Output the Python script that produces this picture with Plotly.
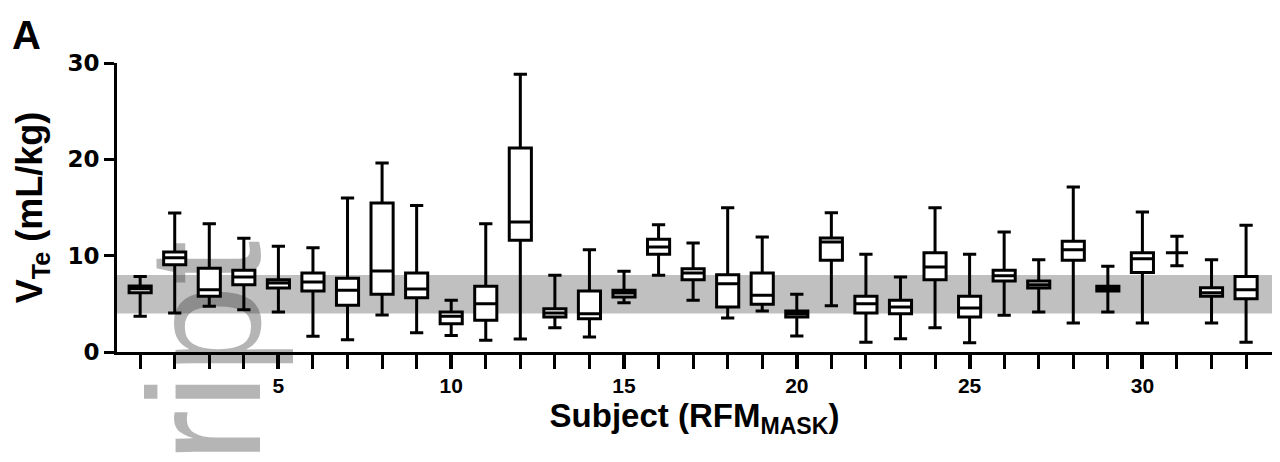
import plotly.graph_objects as go

subjects = list(range(1, 34))
upper_whisker = [7.85, 14.43, 13.32, 11.80, 10.97, 10.83, 15.99, 19.62, 15.22, 5.36, 13.32,
                 28.82, 7.96, 10.62, 8.37, 13.22, 11.31, 14.98, 11.94, 5.99, 14.46,
                 10.14, 7.79, 14.98, 10.14, 12.46, 9.58, 17.13, 8.89, 14.53, 12.01, 9.58, 13.15]
q3_values = [6.85, 10.38, 8.69, 8.48, 7.51, 8.20, 7.65, 15.47, 8.20, 4.15, 6.82,
             21.18, 4.50, 6.33, 6.40, 11.70, 8.65, 8.03, 8.20, 4.26, 11.83,
             5.78, 5.36, 10.31, 5.78, 8.48, 7.37, 11.49, 6.82, 10.31, 10.31, 6.68, 7.85]
medians = [6.57, 9.79, 6.47, 7.79, 7.16, 7.27, 6.40, 8.41, 6.54, 3.70, 5.02,
           13.49, 4.05, 3.98, 6.12, 10.90, 8.20, 7.09, 5.88, 3.98, 11.42,
           5.02, 4.67, 8.82, 4.57, 7.92, 6.99, 10.62, 6.57, 9.69, 10.31, 6.16, 6.47]
q1_values = [6.16, 9.07, 5.78, 6.99, 6.64, 6.33, 4.84, 5.99, 5.64, 2.94, 3.29,
             11.59, 3.63, 3.46, 5.71, 10.14, 7.51, 4.67, 4.95, 3.63, 9.52,
             4.05, 3.98, 7.51, 3.63, 7.37, 6.64, 9.52, 6.33, 8.24, 10.31, 5.78, 5.54]
lower_whisker = [3.70, 4.05, 4.74, 4.39, 4.15, 1.63, 1.28, 3.84, 2.01, 1.70, 1.21,
                 1.35, 2.53, 1.56, 5.12, 7.96, 5.36, 3.53, 4.26, 1.66, 4.81,
                 1.00, 1.38, 2.53, 0.97, 3.81, 4.15, 3.01, 4.15, 3.01, 8.96, 3.01, 1.00]

band_low, band_high = 4, 8
y_ticks = [0, 10, 20, 30]
watermark_text = "ript"

font_family = "Liberation Sans"

fig = go.Figure()

# faint journal watermark (drawn beneath the boxes)
fig.add_trace(go.Bar(
    x=[2.87], y=[2], base=[-0.96], width=[1],
    text=[watermark_text], textposition="inside", insidetextanchor="middle",
    textangle=-90, constraintext="none", cliponaxis=False,
    insidetextfont=dict(family=font_family, size=160, color="rgba(55,55,55,0.37)"),
    marker=dict(color="rgba(0,0,0,0)", line=dict(width=0)),
    hoverinfo="skip", showlegend=False,
))

fig.add_trace(go.Box(
    x=subjects,
    q1=q1_values, median=medians, q3=q3_values,
    lowerfence=lower_whisker, upperfence=upper_whisker,
    boxpoints=False,
    width=0.64,
    whiskerwidth=0.6,
    fillcolor="white",
    line=dict(color="black", width=3),
    showlegend=False,
))

fig.add_shape(type="rect", xref="paper", x0=0, x1=1, yref="y", y0=band_low, y1=band_high,
              fillcolor="#c0c0c0", line=dict(width=0), layer="below")

fig.add_annotation(text="<b>A</b>", xref="paper", yref="paper", x=-0.092, y=1.178,
                   xanchor="left", yanchor="top", showarrow=False, borderpad=0,
                   font=dict(family=font_family, size=40, color="black"))

fig.update_layout(
    width=1280, height=462,
    margin=dict(l=109, r=16, t=55, b=118),
    paper_bgcolor="white", plot_bgcolor="white",
    showlegend=False,
    xaxis=dict(
        range=[0.33, 33.75], showgrid=False, zeroline=False,
        showline=True, linecolor="black", linewidth=3,
        ticks="outside", ticklen=14, tickwidth=4, tickcolor="black",
        tick0=0, dtick=5, ticklabelstandoff=-1,
        tickfont=dict(family=font_family, size=21, color="black", weight="bold"),
        minor=dict(dtick=1, tick0=0, ticks="outside", ticklen=14, tickwidth=3,
                   tickcolor="black", showgrid=False),
        title=dict(text="Subject (RFM<sub>MASK</sub>)", standoff=0,
                   font=dict(family=font_family, size=33, color="black", weight="bold")),
    ),
    yaxis=dict(
        range=[0, 30], showgrid=False, zeroline=False,
        showline=True, linecolor="black", linewidth=3,
        ticks="outside", ticklen=10, tickwidth=3, tickcolor="black",
        tickvals=y_ticks,
        tickfont=dict(family="DejaVu Sans", size=23, color="black", weight="bold"),
        title=dict(text="V<sub>Te</sub> (mL/kg)", standoff=14,
                   font=dict(family=font_family, size=36, color="black", weight="bold")),
    ),
)

fig.write_html("out.html")
